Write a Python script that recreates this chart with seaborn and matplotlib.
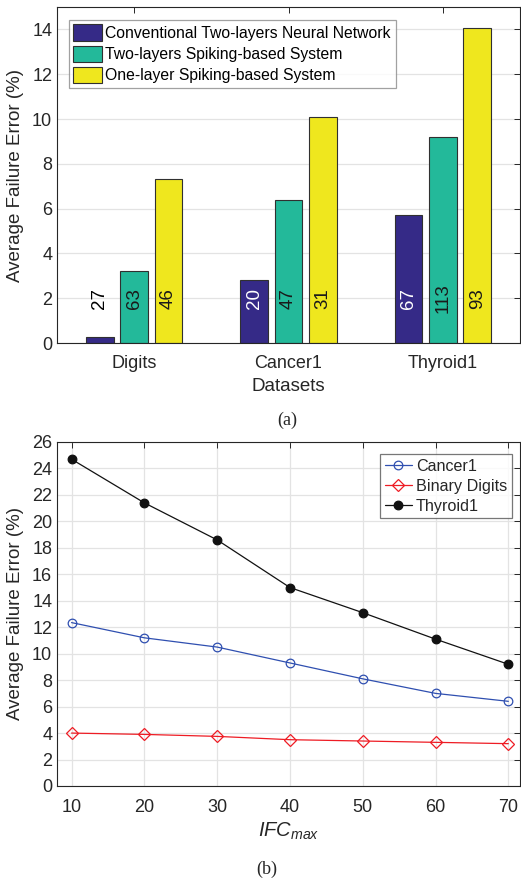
import matplotlib
matplotlib.use("Agg")
import matplotlib.pyplot as plt
import seaborn as sns
import pandas as pd

# ---- data (a) ----
datasets = ["Digits", "Cancer1", "Thyroid1"]
systems = ["Conventional Two-layers Neural Network",
           "Two-layers Spiking-based System",
           "One-layer Spiking-based System"]
err_conv = [0.25, 2.8, 5.7]
err_two = [3.2, 6.4, 9.2]
err_one = [7.3, 10.1, 14.05]
lbl_conv = ["27", "20", "67"]
lbl_two = ["63", "47", "113"]
lbl_one = ["46", "31", "93"]

# ---- data (b) ----
ifc = [10, 20, 30, 40, 50, 60, 70]
cancer1 = [12.35, 11.2, 10.5, 9.3, 8.1, 7.0, 6.4]
binary_digits = [4.0, 3.9, 3.75, 3.5, 3.4, 3.3, 3.2]
thyroid1 = [24.7, 21.4, 18.6, 15.0, 13.1, 11.1, 9.2]

sns.set_theme(style="white")
plt.rcParams['font.family'] = ['Liberation Sans', 'DejaVu Sans']
plt.rcParams['mathtext.fontset'] = 'custom'
plt.rcParams['mathtext.it'] = 'Liberation Sans:italic'
plt.rcParams['mathtext.rm'] = 'Liberation Sans'

W, H = 521, 882
fig = plt.figure(figsize=(W / 100, H / 100), dpi=100)
tick_col = "#262626"
grid_col = "#E3E3E3"

def px_axes(l, t, r, b):
    return fig.add_axes([l / W, 1 - b / H, (r - l) / W, (b - t) / H])

def style_axes(ax):
    for s in ax.spines.values():
        s.set_color(tick_col)
        s.set_linewidth(0.8)
        s.set_visible(True)
    ax.tick_params(direction="in", length=4, width=0.7, colors=tick_col,
                   labelsize=13, top=True, right=True, labelcolor=tick_col)

# ----- (a) bar chart -----
ax1 = px_axes(57, 7, 520, 343)
df_a = pd.DataFrame({
    "Dataset": datasets * 3,
    "System": [systems[0]] * 3 + [systems[1]] * 3 + [systems[2]] * 3,
    "Error": err_conv + err_two + err_one,
})
palette = ["#352A87", "#23B99A", "#EFE71E"]
sns.barplot(data=df_a, x="Dataset", y="Error", hue="System", order=datasets,
            hue_order=systems, palette=palette, width=0.667, gap=0.19,
            edgecolor="#303030", linewidth=0.8, saturation=1, ax=ax1)
ax1.set_xlim(-0.5, 2.5)
ax1.set_ylim(0, 15)
ax1.set_yticks(range(0, 15, 2))
ax1.yaxis.grid(True, color=grid_col, linewidth=0.9)
ax1.set_axisbelow(True)
style_axes(ax1)
ax1.tick_params(axis="x", pad=9)
ax1.set_xlabel("Datasets", fontsize=13.5, color=tick_col, labelpad=4)
ax1.set_ylabel("Average Failure Error (%)", fontsize=13.5, color=tick_col, labelpad=6)

labels_all = lbl_conv + lbl_two + lbl_one
colors_all = ["black", "white", "white"] + ["#1a1a1a"] * 3 + ["#1a1a1a"] * 3
bars = list(ax1.patches)[:9]
for p, t, c in zip(bars, labels_all, colors_all):
    ax1.text(p.get_x() + p.get_width() / 2, 2.0, t, rotation=90, ha="center",
             va="center", fontsize=13.5, color=c)

leg1 = ax1.legend(loc="upper left", bbox_to_anchor=(0.025, 0.962), fontsize=11.3,
                  frameon=True, fancybox=False, edgecolor="#8a8a8a",
                  handlelength=1.8, handleheight=1.2, handletextpad=0.25,
                  borderpad=0.3, labelspacing=0.3, borderaxespad=0)
leg1.get_frame().set_linewidth(0.9)
for t in leg1.get_texts():
    t.set_color("black")

fig.text(287 / W, 1 - 420 / H, "(a)", ha="center", va="center",
         fontsize=13, family="Liberation Serif")

# ----- (b) line chart -----
ax2 = px_axes(57, 442, 520, 786)
df_b = pd.DataFrame({"IFC": ifc * 3,
                     "Error": cancer1 + binary_digits + thyroid1,
                     "Set": ["Cancer1"] * 7 + ["Binary Digits"] * 7 + ["Thyroid1"] * 7})
specs = [("Cancer1", "#2F4FB0", "o", "none", 6.2),
         ("Binary Digits", "#EE1C24", "D", "none", 5.8),
         ("Thyroid1", "#111111", "o", "#111111", 6.2)]
for name, col, mk, mfc, ms in specs:
    sub = df_b[df_b["Set"] == name]
    sns.lineplot(data=sub, x="IFC", y="Error", color=col, marker=mk,
                 markerfacecolor=mfc, markeredgecolor=col, markeredgewidth=0.9,
                 markersize=ms, linewidth=0.9, label=name, ax=ax2)
ax2.set_xlim(8, 71.6)
ax2.set_ylim(0, 26)
ax2.set_xticks(ifc)
ax2.set_yticks(range(0, 27, 2))
ax2.grid(True, color=grid_col, linewidth=0.9)
ax2.set_axisbelow(True)
style_axes(ax2)
ax2.tick_params(axis="x", pad=9)
ax2.set_xlabel(r"$\mathit{IFC}_{\mathit{max}}$", fontsize=14.5, color=tick_col, labelpad=4)
ax2.set_ylabel("Average Failure Error (%)", fontsize=13.5, color=tick_col, labelpad=6)
leg2 = ax2.legend(loc="upper right", bbox_to_anchor=(0.983, 0.965), fontsize=11.6,
                  frameon=True, fancybox=False, edgecolor="#555555",
                  handlelength=1.7, handletextpad=0.25, borderpad=0.3,
                  labelspacing=0.3, borderaxespad=0)
leg2.get_frame().set_linewidth(0.9)

fig.text(267 / W, 1 - 869 / H, "(b)", ha="center", va="center",
         fontsize=13, family="Liberation Serif")

fig.savefig("out.png", dpi=100)
